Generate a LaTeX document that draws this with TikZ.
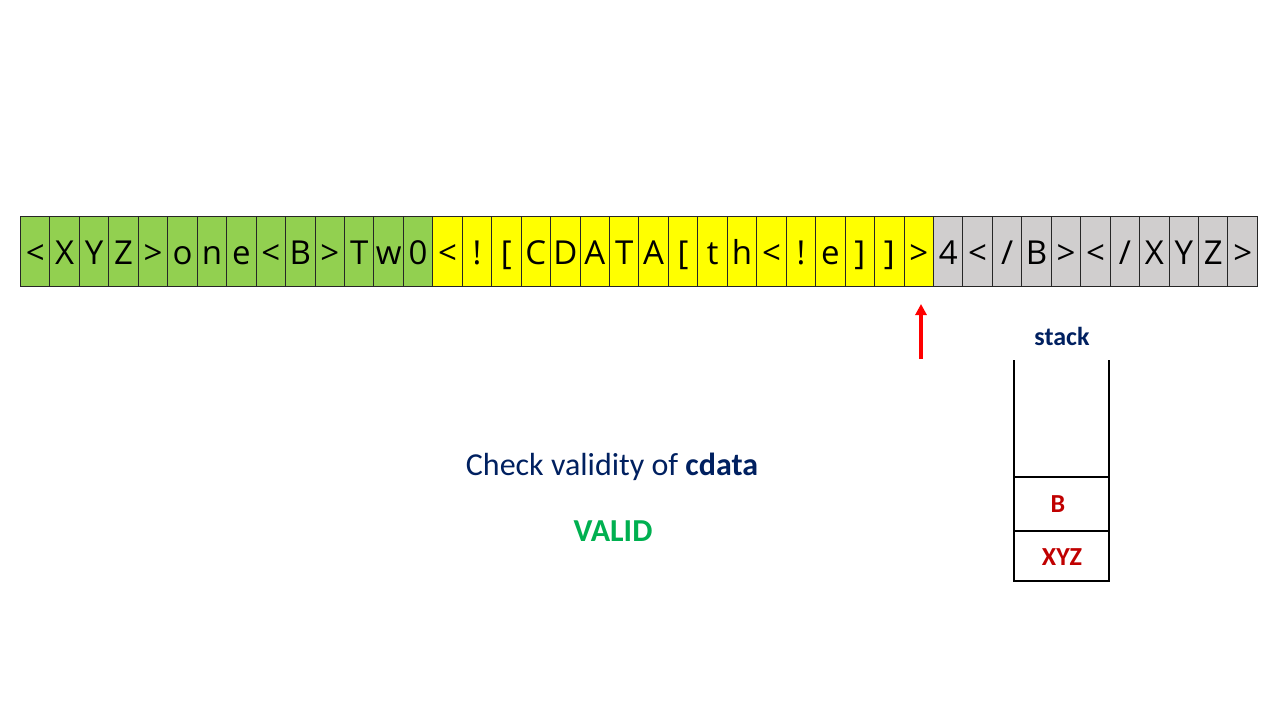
\documentclass[tikz,border=0pt]{standalone}
\usepackage{fontspec}
\setmainfont{Carlito}
\newfontfamily\cellfont{Open Sans}
\usetikzlibrary{arrows.meta}
\definecolor{cgreen}{HTML}{92D050}
\definecolor{cyellow}{HTML}{FFFF00}
\definecolor{cgray}{HTML}{D0CECE}
\definecolor{navy}{HTML}{002060}
\definecolor{okgreen}{HTML}{00B050}
\definecolor{darkred}{HTML}{C00000}
\tikzset{
  cellbox/.style={draw=black!85, line width=1pt, minimum width=29.45pt, minimum height=70pt, inner sep=0pt, text height=29pt, text depth=3pt, anchor=north west, font=\cellfont\fontsize{33}{33}\selectfont},
  stackline/.style={line width=2.8pt, black},
  stacklabel/.style={font=\bfseries\fontsize{26}{26}\selectfont, text=darkred},
}
\begin{document}
\begin{tikzpicture}[x=1pt,y=-1pt]
\useasboundingbox (0,0) rectangle (1280,720);
\foreach \ch [count=\i from 0] in {<,X,Y,Z,>,o,n,e,<,B,>,T,w,0,<,!,[,C,D,A,T,A,[,t,h,<,!,e,],],>,4,<,/,B,>,<,/,X,Y,Z,>}{
  \ifnum\i<14 \def\fc{cgreen}\else\ifnum\i<31 \def\fc{cyellow}\else\def\fc{cgray}\fi\fi
  \node[cellbox, fill=\fc] (c\i) at ({20+\i*29.45},216) {\ch};
}
\coordinate (tail) at (921,359);
\coordinate (head) at (921,304);
\draw[red, line width=3.5pt, -{Triangle[length=11pt,width=11pt]}] (tail) -- (head);
\node[font=\bfseries\fontsize{26}{26}\selectfont, text=navy] (stk) at (1062,336) {stack};
\coordinate (tl) at (1014,360);
\coordinate (bl) at (1014,581);
\coordinate (br) at (1109,581);
\coordinate (tr) at (1109,360);
\draw[stackline] (tl) -- (bl) -- (br) -- (tr);
\coordinate (m1l) at (1014,477);
\coordinate (m1r) at (1109,477);
\coordinate (m2l) at (1014,531);
\coordinate (m2r) at (1109,531);
\draw[stackline] (m1l) -- (m1r);
\draw[stackline] (m2l) -- (m2r);
\node[stacklabel] (sb) at (1058,504) {B};
\node[stacklabel] (sx) at (1062,557) {XYZ};
\node[font=\fontsize{32}{32}\selectfont, text=navy] (chk) at (612,467) {Check validity of \textbf{cdata}};
\node[font=\bfseries\fontsize{32}{32}\selectfont, text=okgreen] (valid) at (613,531) {VALID};
\end{tikzpicture}
\end{document}
